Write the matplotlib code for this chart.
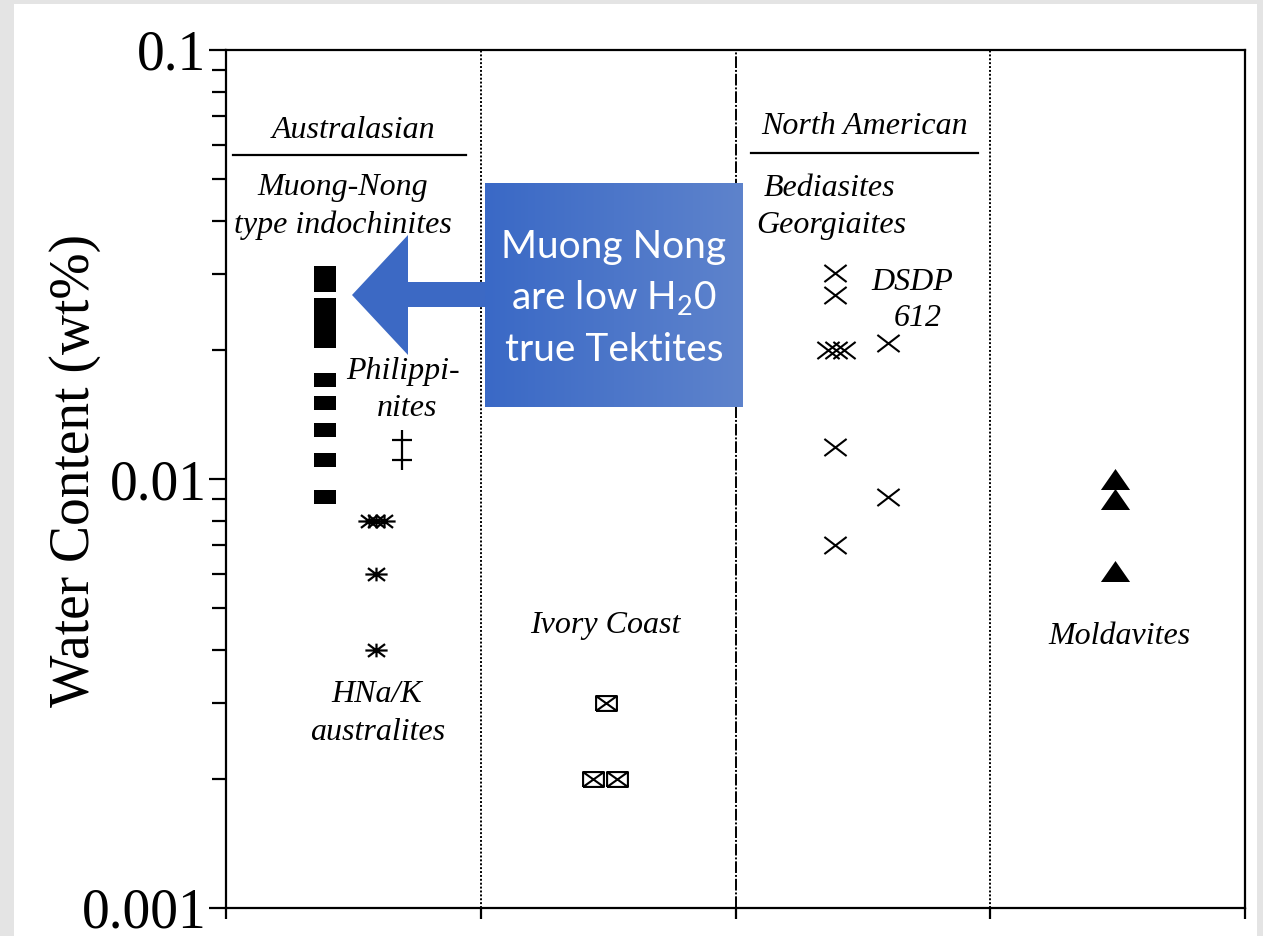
import numpy as np
import matplotlib
matplotlib.use("Agg")
import matplotlib.pyplot as plt
from matplotlib.path import Path
from matplotlib.patches import Polygon, Rectangle
from matplotlib.lines import Line2D
from matplotlib.ticker import LogLocator, NullFormatter, FixedLocator
from matplotlib.colors import LinearSegmentedColormap

# ---------------- data ----------------
groups = ["Muong-Nong type indochinites", "Philippinites", "HNa/K australites",
          "Ivory Coast", "Bediasites/Georgiaites", "DSDP 612", "Moldavites"]

muong_x = [0.39] * 11
muong_y = [0.0302, 0.0284, 0.0255, 0.0238, 0.0223, 0.0210, 0.0170, 0.0150, 0.0130, 0.0111, 0.0091]

phil_x = [0.69, 0.69]
phil_y = [0.0123, 0.0111]

aus_x = [0.56, 0.59, 0.62, 0.59, 0.59]
aus_y = [0.0080, 0.0080, 0.0080, 0.0060, 0.0040]

ivory_x = [1.49, 1.44, 1.535]
ivory_y = [0.0030, 0.0020, 0.0020]

bed_x = [2.39, 2.39, 2.365, 2.395, 2.425, 2.39, 2.39]
bed_y = [0.0302, 0.0268, 0.0200, 0.0200, 0.0200, 0.0119, 0.0070]

dsdp_x = [2.60, 2.60]
dsdp_y = [0.0208, 0.0091]

mold_x = [3.49, 3.49, 3.49]
mold_y = [0.0100, 0.0090, 0.0061]

y_ticks = [0.001, 0.01, 0.1]
y_ticklabels = ["0.001", "0.01", "0.1"]
dividers = [1, 2, 3]

# ---------------- figure ----------------
W, H = 1263, 936
fig = plt.figure(figsize=(W / 100, H / 100), dpi=100, facecolor="#e4e4e4")

def fx(px):
    return px / W

def fy(py):
    return 1 - py / H

# white page
fig.patches.append(Rectangle((fx(14), 0), fx(1257) - fx(14), fy(4), transform=fig.transFigure,
                             facecolor="white", edgecolor="none", zorder=-10))

ax = fig.add_axes([fx(226), fy(908), fx(1245) - fx(226), fy(50) - fy(908)])
ax.set_facecolor("white")
ax.set_yscale("log")
ax.set_ylim(0.001, 0.1)
ax.set_xlim(0, 4)

serif = "Liberation Serif"
for s in ax.spines.values():
    s.set_linewidth(1.6)
ax.yaxis.set_major_locator(FixedLocator(y_ticks))
ax.set_yticklabels(y_ticklabels, fontfamily=serif, fontsize=40)
ax.yaxis.set_minor_locator(LogLocator(base=10, subs=np.arange(2, 10)))
ax.yaxis.set_minor_formatter(NullFormatter())
ax.tick_params(axis="y", which="major", direction="out", length=12, width=1.6, pad=2)
ax.tick_params(axis="y", which="minor", direction="out", length=10, width=1.6)
ax.set_xticks([0, 1, 2, 3, 4])
ax.set_xticklabels([])
ax.tick_params(axis="x", which="major", direction="out", length=8, width=1.6)
ax.set_ylabel("Water Content (wt%)", fontfamily=serif, fontsize=40)
ax.yaxis.set_label_coords(-0.148, 0.51)
ax.yaxis.label.set_va("center")

ax.axvline(dividers[0], color="black", lw=1.4, ls=(0, (1, 1)))
ax.axvline(dividers[1], color="black", lw=1.4, ls=(0, (6, 1, 1, 1)))
ax.axvline(dividers[2], color="black", lw=1.4, ls=(0, (1, 1)))

# custom markers
rect_m = Path([(-1.6, -1), (1.6, -1), (1.6, 1), (-1.6, 1), (-1.6, -1)],
              [Path.MOVETO, Path.LINETO, Path.LINETO, Path.LINETO, Path.CLOSEPOLY])
x_m = Path([(-1.3, -1), (1.3, 1), (-1.3, 1), (1.3, -1)],
           [Path.MOVETO, Path.LINETO, Path.MOVETO, Path.LINETO])
box_x_m = Path([(-1.4, -1), (1.4, -1), (1.4, 1), (-1.4, 1), (-1.4, -1),
                (-1.4, -1), (1.4, 1), (-1.4, 1), (1.4, -1)],
               [Path.MOVETO, Path.LINETO, Path.LINETO, Path.LINETO, Path.LINETO,
                Path.MOVETO, Path.LINETO, Path.MOVETO, Path.LINETO])
tri_m = Path([(0, 0.72), (-1, -0.72), (1, -0.72), (0, 0.72)],
             [Path.MOVETO, Path.LINETO, Path.LINETO, Path.CLOSEPOLY])
ast_m = Path([(-1.3, 0), (1.3, 0), (-1.0, -0.75), (1.0, 0.75), (-1.0, 0.75), (1.0, -0.75),
              (0, -0.8), (0, 0.8)],
             [Path.MOVETO, Path.LINETO, Path.MOVETO, Path.LINETO, Path.MOVETO, Path.LINETO,
              Path.MOVETO, Path.LINETO])

ax.plot(muong_x, muong_y, ls="none", marker=rect_m, ms=16, color="black", mew=0)
ax.plot(phil_x, phil_y, ls="none", marker="+", ms=14, color="black", mew=1.6)
ax.plot(aus_x, aus_y, ls="none", marker=ast_m, ms=16, color="black", mfc="none", mew=1.6)
ax.plot(ivory_x, ivory_y, ls="none", marker=box_x_m, ms=15, color="black",
        mfc="none", mew=1.5)
ax.plot(bed_x, bed_y, ls="none", marker=x_m, ms=16, color="black", mfc="none", mew=1.5)
ax.plot(dsdp_x, dsdp_y, ls="none", marker=x_m, ms=16, color="black", mfc="none", mew=1.5)
ax.plot(mold_x, mold_y, ls="none", marker=tri_m, ms=21, color="black", mew=0)

# ---------------- annotations ----------------
def label(px, py, s, size=23):
    fig.text(fx(px), fy(py), s, ha="center", va="center", fontfamily=serif,
             style="italic", fontsize=size, color="black")

label(354, 130, "Australasian")
label(343, 188, "Muong-Nong")
label(343, 225, "type indochinites")
label(403, 372, "Philippi-")
label(407, 408, "nites")
label(377, 695, "HNa/K")
label(378, 733, "australites")
label(605, 626, "Ivory Coast")
label(865, 126, "North American")
label(830, 188, "Bediasites")
label(831, 225, "Georgiaites")
label(912, 282, "DSDP")
label(918, 318, "612")
label(1120, 636, "Moldavites")

fig.add_artist(Line2D([fx(233), fx(466)], [fy(155), fy(155)], color="black", lw=1.6))
fig.add_artist(Line2D([fx(751), fx(978)], [fy(153), fy(153)], color="black", lw=1.6))

# blue arrow
blue = "#3c69c4"
arrow = Polygon([(fx(352), fy(295)), (fx(408), fy(235)), (fx(408), fy(282)),
                 (fx(490), fy(282)), (fx(490), fy(307)), (fx(408), fy(307)),
                 (fx(408), fy(355))], closed=True, transform=fig.transFigure,
                facecolor=blue, edgecolor="none", zorder=5)
fig.add_artist(arrow)

# gradient box
bax = fig.add_axes([fx(485), fy(407), fx(743) - fx(485), fy(183) - fy(407)], zorder=6)
grad = np.linspace(0, 1, 256).reshape(1, -1)
cmap = LinearSegmentedColormap.from_list("bb", ["#3a69c6", "#5e83cc"])
bax.imshow(grad, aspect="auto", cmap=cmap, extent=[0, 1, 0, 1])
bax.set_xlim(0, 1)
bax.set_ylim(0, 1)
bax.axis("off")
for s, yy in [("Muong Nong", 0.714), ("are low H$\\mathregular{_2}$0", 0.487), ("true Tektites", 0.254)]:
    bax.text(0.5, yy, s, ha="center", va="center", color="white",
             fontfamily="Lato", fontsize=28, transform=bax.transAxes)

fig.savefig("out.png", dpi=100, facecolor=fig.get_facecolor())
